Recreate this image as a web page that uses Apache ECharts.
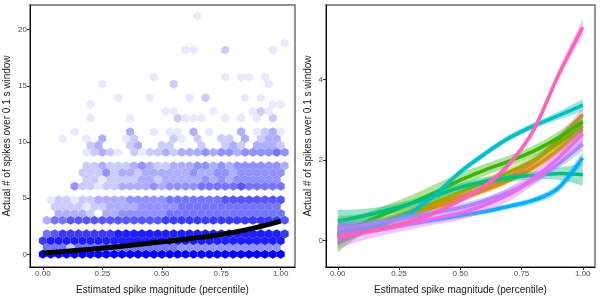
<!DOCTYPE html>
<html><head><meta charset="utf-8">
<script src="https://cdn.jsdelivr.net/npm/echarts@6/dist/echarts.min.js"></script>
<style>html,body{margin:0;padding:0;background:#fff}#c{width:600px;height:300px}</style>
</head><body><div id="c"></div>
<script>
// ---------- Left panel: hexbin counts (intensity levels 1-9, '.' = empty) ----------
// even rows: columns c = 0..30 ; odd rows: columns c = -1..30
const hexRows = [
  "9999999999999999999999999999999",            // row 0  (y = 0)
  ".555255555555555554444444444444.",           // row 1
  "7888888888888888888888888888888",            // row 2
  ".5677777778888888888888888888887",           // row 3
  "",                                           // row 4
  ".3556666666666667777777777777776",           // row 5
  "..33332.33444444555555555555555",            // row 6
  "..22221223333444445555555555555.",           // row 7
  ".122122333344444555555566666666",            // row 8
  "",                                           // row 9
  "....422122333343444455555655555",            // row 10
  "......2212222332333334343444444.",           // row 11
  ".....22242332333333433443444444",            // row 12
  "......22322234322333443434444443",           // row 13
  "",                                           // row 14
  "......12321.21223233343443444454.",          // row 15
  "......23...23..22...2..232.3332",            // row 16
  "...1..1.3..12....21.2..22.3.233.",           // row 17
  "....1......3..1.11.3.1...3.1231",            // row 18
  "",                                           // row 19
  "......1....1.....2111..1.1.1.2.",            // row 20
  "................11....1....121..",           // row 21
  "......1......................11",            // row 22
  "..........1...1....1.2....1.1...",           // row 23
  "",                                           // row 24
  "........1........2...........1..",           // row 25
  "..............1........1.11.1..",            // row 26
  "", "", "",                                   // rows 27-29
  "..................11...2.....1.",            // row 30
  "...............................1",           // row 31
  "", "", "",                                   // rows 32-34
  "....................1..........."            // row 35
];
const hexBinX = 1 / 30;                 // bin width in x
const hexBinY = 0.7 * Math.sqrt(3) / 2; // row spacing in y

// trend curve
const trendX = [0, 0.1, 0.2, 0.3, 0.4, 0.5, 0.6, 0.7, 0.8, 0.9, 1.0];
const trendY = [0.12, 0.27, 0.45, 0.65, 0.87, 1.12, 1.35, 1.6, 1.95, 2.4, 2.95];

// ---------- Right panel: smoothed fits per group ----------
const fitX = [0, 0.1, 0.2, 0.3, 0.4, 0.5, 0.6, 0.7, 0.8, 0.9, 1.0];
const groupColors = ['#F8766D', '#D89000', '#A3A500', '#39B600', '#00BF7D', '#00BFC4', '#00B0F6', '#9590FF', '#E76BF3', '#FF62BC'];
const fitSalmon   = [0.15, 0.3, 0.48, 0.68, 0.88, 1.1, 1.32, 1.58, 1.95, 2.5, 3.13];
const fitOrange   = [0.1, 0.28, 0.45, 0.63, 0.83, 1.03, 1.25, 1.5, 1.82, 2.25, 2.77];
const fitOlive    = [0.12, 0.3, 0.5, 0.72, 0.95, 1.2, 1.45, 1.7, 2.0, 2.4, 2.85];
const fitGreen    = [0.15, 0.42, 0.68, 0.92, 1.2, 1.5, 1.75, 1.97, 2.22, 2.55, 2.95];
const fitSeaGreen = [0.48, 0.6, 0.75, 0.92, 1.12, 1.32, 1.47, 1.56, 1.62, 1.66, 1.64];
const fitTeal     = [0.2, 0.3, 0.45, 0.7, 1.15, 1.7, 2.15, 2.55, 2.85, 3.1, 3.36];
const fitSky      = [0.12, 0.22, 0.32, 0.42, 0.52, 0.62, 0.72, 0.85, 1.0, 1.3, 2.05];
const fitLavender = [0.3, 0.38, 0.48, 0.58, 0.7, 0.82, 0.98, 1.2, 1.5, 1.9, 2.4];
const fitMagenta  = [0.1, 0.2, 0.3, 0.42, 0.55, 0.68, 0.88, 1.15, 1.55, 2.05, 2.65];
const fitPink     = [0.08, 0.2, 0.32, 0.48, 0.7, 1.0, 1.35, 1.9, 2.75, 4.1, 5.3];
const seSalmon    = [0.22, 0.12, 0.09, 0.08, 0.08, 0.08, 0.08, 0.08, 0.09, 0.11, 0.16];
const seOrange    = [0.22, 0.12, 0.09, 0.08, 0.08, 0.08, 0.08, 0.08, 0.09, 0.11, 0.16];
const seOlive     = [0.25, 0.14, 0.1, 0.1, 0.1, 0.1, 0.1, 0.1, 0.1, 0.12, 0.18];
const seGreen     = [0.45, 0.25, 0.2, 0.2, 0.2, 0.18, 0.15, 0.14, 0.14, 0.15, 0.2];
const seSeaGreen  = [0.28, 0.18, 0.12, 0.1, 0.1, 0.1, 0.1, 0.1, 0.1, 0.15, 0.28];
const seTeal      = [0.3, 0.14, 0.09, 0.08, 0.08, 0.08, 0.08, 0.08, 0.08, 0.1, 0.15];
const seSky       = [0.22, 0.1, 0.08, 0.07, 0.07, 0.07, 0.07, 0.07, 0.08, 0.1, 0.15];
const seLavender  = [0.2, 0.12, 0.1, 0.1, 0.1, 0.1, 0.1, 0.1, 0.1, 0.12, 0.18];
const seMagenta   = [0.3, 0.2, 0.15, 0.15, 0.15, 0.17, 0.17, 0.17, 0.17, 0.2, 0.25];
const sePink      = [0.15, 0.08, 0.06, 0.06, 0.06, 0.07, 0.07, 0.08, 0.1, 0.12, 0.2];

const fits = [fitSalmon, fitOrange, fitOlive, fitGreen, fitSeaGreen, fitTeal, fitSky, fitLavender, fitMagenta, fitPink];
const ses  = [seSalmon, seOrange, seOlive, seGreen, seSeaGreen, seTeal, seSky, seLavender, seMagenta, sePink];

const xTicks = [0, 0.25, 0.5, 0.75, 1];
const leftYTicks = [0, 5, 10, 15, 20];
const rightYTicks = [0, 2, 4];

// ---------- build ----------
const hexData = [];
hexRows.forEach((s, r) => {
  const odd = r % 2 === 1;
  for (let i = 0; i < s.length; i++) {
    const ch = s[i];
    if (ch === '.') continue;
    const c = odd ? i - 1 : i;
    const x = odd ? (c + 0.5) * hexBinX : c * hexBinX;
    hexData.push([x, r * hexBinY, +ch]);
  }
});
function levelColor(l) {
  const t = (l - 1) / 8;
  const v = Math.round(232 * (1 - t));
  return 'rgb(' + v + ',' + v + ',255)';
}
const hw = hexBinX / 2, hv = hexBinY * 2 / 3;

// Catmull-Rom path through pixel points (rendering helper only)
function splinePath(pts, moveFirst) {
  let d = (moveFirst ? 'M' : 'L') + pts[0][0].toFixed(2) + ' ' + pts[0][1].toFixed(2);
  for (let i = 0; i < pts.length - 1; i++) {
    const p0 = pts[Math.max(i - 1, 0)], p1 = pts[i], p2 = pts[i + 1], p3 = pts[Math.min(i + 2, pts.length - 1)];
    const c1 = [p1[0] + (p2[0] - p0[0]) / 6, p1[1] + (p2[1] - p0[1]) / 6];
    const c2 = [p2[0] - (p3[0] - p1[0]) / 6, p2[1] - (p3[1] - p1[1]) / 6];
    d += ' C' + c1[0].toFixed(2) + ' ' + c1[1].toFixed(2) + ' ' + c2[0].toFixed(2) + ' ' + c2[1].toFixed(2) + ' ' + p2[0].toFixed(2) + ' ' + p2[1].toFixed(2);
  }
  return d;
}

const labelStyle = { color: '#4d4d4d', fontSize: 8, fontFamily: 'Liberation Sans, Arial, sans-serif' };
const nameStyle = { color: '#1a1a1a', fontSize: 10, fontFamily: 'Liberation Sans, Arial, sans-serif' };
function xAxis(idx, min, max) {
  return {
    type: 'value', gridIndex: idx, min: min, max: max,
    name: 'Estimated spike magnitude (percentile)', nameLocation: 'middle', nameGap: 18, nameTextStyle: nameStyle,
    splitLine: { show: false },
    axisLine: { show: true, onZero: false, lineStyle: { color: '#000', width: 1 } },
    axisTick: { show: true, length: 3, lineStyle: { color: '#333' }, customValues: xTicks },
    axisLabel: Object.assign({ margin: 3, customValues: xTicks, formatter: v => v.toFixed(2) }, labelStyle)
  };
}
function yAxis(idx, min, max, ticks, gap) {
  return {
    type: 'value', gridIndex: idx, min: min, max: max,
    name: 'Actual # of spikes over 0.1 s window', nameLocation: 'middle', nameGap: gap, nameTextStyle: nameStyle,
    splitLine: { show: false },
    axisLine: { show: true, onZero: false, lineStyle: { color: '#000', width: 1 } },
    axisTick: { show: true, length: 3, lineStyle: { color: '#333' }, customValues: ticks },
    axisLabel: Object.assign({ margin: 3, customValues: ticks, formatter: v => String(v) }, labelStyle)
  };
}

const series = [];
series.push({
  type: 'custom', xAxisIndex: 0, yAxisIndex: 0, data: hexData, silent: true, z: 2,
  renderItem: function (params, api) {
    const x = api.value(0), y = api.value(1), l = api.value(2);
    const pts = [[x, y + hv], [x + hw, y + hv / 2], [x + hw, y - hv / 2], [x, y - hv], [x - hw, y - hv / 2], [x - hw, y + hv / 2]]
      .map(p => api.coord(p));
    return { type: 'polygon', shape: { points: pts }, style: { fill: levelColor(l), stroke: null } };
  }
});
series.push({
  type: 'custom', xAxisIndex: 0, yAxisIndex: 0, data: [[0]], silent: true, z: 5,
  renderItem: function (params, api) {
    const pts = trendX.map((x, i) => api.coord([x, trendY[i]]));
    return { type: 'path', shape: { pathData: splinePath(pts, true) }, style: { fill: null, stroke: '#000', lineWidth: 5, lineCap: 'butt' } };
  }
});

fits.forEach((f, g) => {
  const col = groupColors[g];
  const se = ses[g];
  series.push({
    type: 'custom', xAxisIndex: 1, yAxisIndex: 1, data: [[g]], silent: true, z: 3,
    renderItem: function (params, api) {
      const up = fitX.map((x, i) => api.coord([x, f[i] + se[i]]));
      const lo = fitX.map((x, i) => api.coord([x, f[i] - se[i]])).reverse();
      const mid = fitX.map((x, i) => api.coord([x, f[i]]));
      const ribbon = splinePath(up, true) + ' ' + splinePath(lo, false) + ' Z';
      return {
        type: 'group', children: [
          { type: 'path', shape: { pathData: ribbon }, style: { fill: col, opacity: 0.4, stroke: null } },
          { type: 'path', shape: { pathData: splinePath(mid, true) }, style: { fill: null, stroke: col, lineWidth: 3.5 } }
        ]
      };
    }
  });
});

const chart = echarts.init(document.getElementById('c'), null, { renderer: 'canvas' });
chart.setOption({
  animation: false,
  backgroundColor: '#fff',
  grid: [
    { left: 30, top: 5, width: 265, height: 268, show: true, borderColor: '#6e6e6e', borderWidth: 1.5, backgroundColor: 'transparent' },
    { left: 326, top: 5, width: 269, height: 268, show: true, borderColor: '#6e6e6e', borderWidth: 1.5, backgroundColor: 'transparent' }
  ],
  xAxis: [xAxis(0, -0.054, 1.06), xAxis(1, -0.048, 1.05)],
  yAxis: [yAxis(0, -1.13, 22.2, leftYTicks, 18), yAxis(1, -0.66, 5.85, rightYTicks, 13)],
  series: series
});
</script></body></html>
